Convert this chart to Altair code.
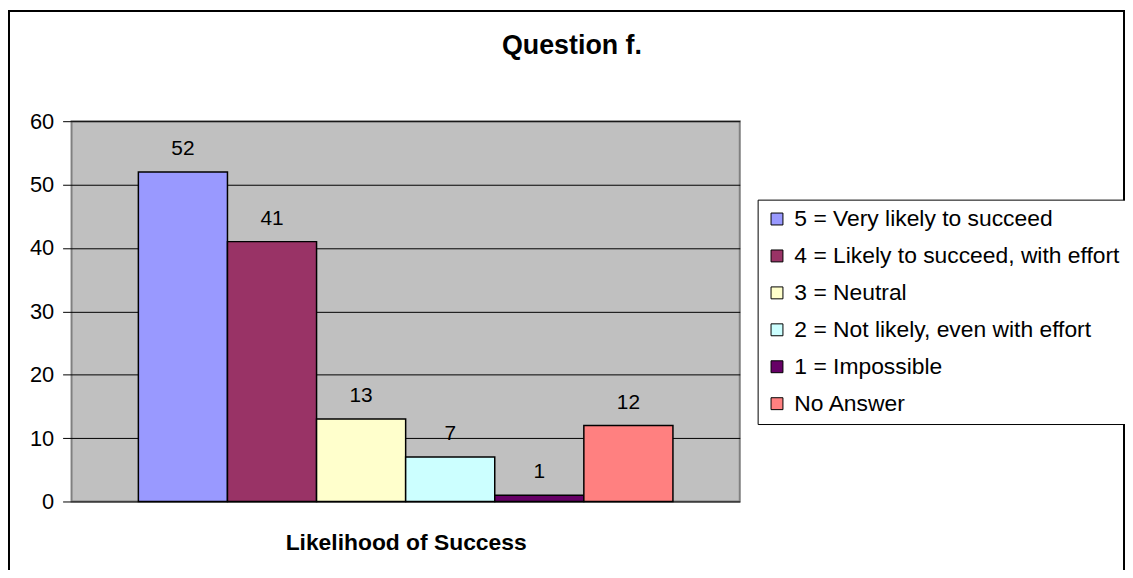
import altair as alt
import pandas as pd

categories = [
    "5 = Very likely to succeed",
    "4 = Likely to succeed, with effort",
    "3 = Neutral",
    "2 = Not likely, even with effort",
    "1 = Impossible",
    "No Answer",
]
values = [52, 41, 13, 7, 1, 12]
colors = ["#9999FF", "#993366", "#FFFFCC", "#CCFFFF", "#660066", "#FF8080"]
title_text = "Question f."

df = pd.DataFrame({"cat": categories, "val": values})
FONT = "Liberation Sans"

W, H = 673, 383
PL, PT = 64, 112
TOTAL_W, TOTAL_H = 1125, 562

base = alt.Chart(df).encode(
    x=alt.X(
        "cat:N",
        sort=categories,
        scale=alt.Scale(paddingInner=0, paddingOuter=0.75),
        axis=alt.Axis(
            labels=False, ticks=False, domain=False,
            title="Likelihood of Success", titleFontSize=23, titleFontWeight="bold",
            titleFont=FONT, titleColor="black", titlePadding=30,
        ),
    ),
    y=alt.Y(
        "val:Q",
        scale=alt.Scale(domain=[0, 60]),
        axis=alt.Axis(
            values=[0, 10, 20, 30, 40, 50, 60], title=None, labelFontSize=22,
            labelFont=FONT, labelColor="black", tickSize=9, tickColor="black",
            labelPadding=9, grid=True, gridColor="black", gridWidth=1,
            domain=False,
        ),
    ),
)

bars = base.mark_bar(stroke="black", strokeWidth=1.5).encode(
    color=alt.Color(
        "cat:N",
        sort=categories,
        scale=alt.Scale(domain=categories, range=colors),
        legend=alt.Legend(
            title=None, orient="none", legendX=691, legendY=79,
            strokeColor="black", fillColor="white", padding=8,
            labelFontSize=23, labelFont=FONT, labelColor="black",
            symbolType="square", symbolSize=144, symbolStrokeColor="black",
            symbolStrokeWidth=1, rowPadding=13.2, labelOffset=6, labelLimit=500,
        ),
    )
)

labels = base.mark_text(
    baseline="alphabetic", dy=-17, fontSize=21, font=FONT, color="black"
).encode(text="val:Q")

one = pd.DataFrame({"k": [0]})
border = alt.Chart(one).mark_rect(
    fill=None, stroke="black", strokeWidth=2
).encode(
    x=alt.value(-PL + 1), x2=alt.value(TOTAL_W - PL - 1),
    y=alt.value(-PT + 1), y2=alt.value(TOTAL_H - PT + 20),
)

title = alt.Chart(one).mark_text(
    fontSize=27, fontWeight="bold", font=FONT, color="black",
    align="center", baseline="alphabetic",
).encode(
    x=alt.value(576 - 8 - PL), y=alt.value(52 - 8 - PT), text=alt.value(title_text)
)

chart = alt.layer(bars, labels, border, title).properties(
    width=W, height=H,
    autosize=alt.AutoSizeParams(type="none"),
    padding={"left": PL, "top": PT, "right": TOTAL_W - PL - W, "bottom": TOTAL_H - PT - H},
    background="white",
).configure_view(
    fill="#C0C0C0", stroke="#808080", strokeWidth=2
)

chart.save("out.html", embed_options={"renderer": "svg", "actions": False})
